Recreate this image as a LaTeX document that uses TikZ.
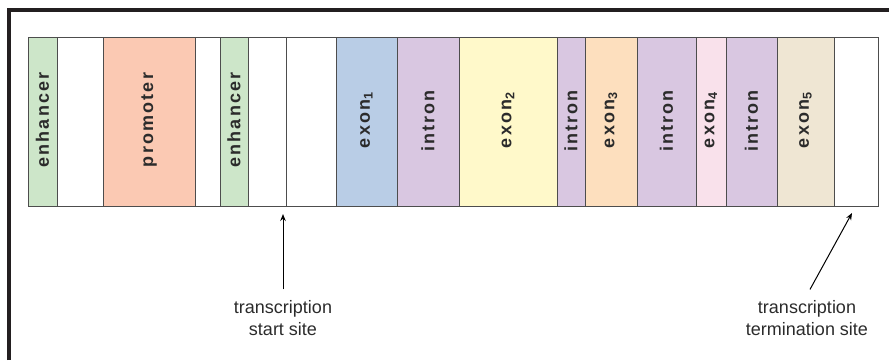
\documentclass[tikz,border=0pt]{standalone}
\usepackage{fontspec}
\setmainfont{Liberation Sans}
\newfontfamily\boxfont[LetterSpace=12]{Liberation Sans}
\usetikzlibrary{arrows.meta,positioning}
\definecolor{framegray}{HTML}{231F20}
\definecolor{segedge}{HTML}{4D4D4D}
\definecolor{txtgray}{HTML}{2B2B2B}
\definecolor{enhgreen}{HTML}{CDE6C9}
\definecolor{promsalmon}{HTML}{FBC9B3}
\definecolor{exonblue}{HTML}{B9CDE6}
\definecolor{intronlilac}{HTML}{D9C7E1}
\definecolor{exonyellow}{HTML}{FFF9CA}
\definecolor{exonorange}{HTML}{FDDFBE}
\definecolor{exonpink}{HTML}{F9E1EB}
\definecolor{exonbeige}{HTML}{EFE6D3}
\tikzset{
  frame/.style     = {line width=4pt, draw=framegray},
  segment/.style   = {draw=segedge, line width=1pt},
  seglabel/.style  = {font=\boxfont\bfseries\fontsize{18}{20}\selectfont,
                      rotate=90, text=txtgray, inner sep=0pt},
  sitelabel/.style = {font=\fontsize{18}{22}\selectfont, align=center,
                      text=txtgray, inner sep=0pt, outer sep=11pt},
  pointer/.style   = {-{Stealth[length=7pt,width=5.5pt]}, line width=1pt},
}

\begin{document}
\begin{tikzpicture}[x=1pt,y=-1pt]
  \useasboundingbox (0,0) rectangle (889,360);
  \draw[frame] (9,360) -- (9,10) -- (889,10);

  % the gene, left to right
  \draw[segment, fill=enhgreen]    (28,37)  rectangle (57,206);
  \draw[segment, fill=white]       (57,37)  rectangle (103,206);
  \draw[segment, fill=promsalmon]  (103,37) rectangle (195,206);
  \draw[segment, fill=white]       (195,37) rectangle (220,206);
  \draw[segment, fill=enhgreen]    (220,37) rectangle (248,206);
  \draw[segment, fill=white]       (248,37) rectangle (286,206);
  \draw[segment, fill=white]       (286,37) rectangle (336,206);
  \draw[segment, fill=exonblue]    (336,37) rectangle (397,206);
  \draw[segment, fill=intronlilac] (397,37) rectangle (459,206);
  \draw[segment, fill=exonyellow]  (459,37) rectangle (557,206);
  \draw[segment, fill=intronlilac] (557,37) rectangle (585,206);
  \draw[segment, fill=exonorange]  (585,37) rectangle (637,206);
  \draw[segment, fill=intronlilac] (637,37) rectangle (696,206);
  \draw[segment, fill=exonpink]    (696,37) rectangle (726,206);
  \draw[segment, fill=intronlilac] (726,37) rectangle (777,206);
  \draw[segment, fill=exonbeige]   (777,37) rectangle (834,206);
  \draw[segment, fill=white]       (834,37) rectangle (878,206);

  \node[seglabel] (enhA)   at (42.5,120)  {enhancer};
  \node[seglabel] (prom)   at (149,120)   {promoter};
  \node[seglabel] (enhB)   at (234,120)   {enhancer};
  \node[seglabel] (exonA)  at (366.5,120) {exon\textsubscript{1}};
  \node[seglabel] (intrA)  at (428,121)   {intron};
  \node[seglabel] (exonB)  at (508,120)   {exon\textsubscript{2}};
  \node[seglabel] (intrB)  at (571,121)   {intron};
  \node[seglabel] (exonC)  at (611,120)   {exon\textsubscript{3}};
  \node[seglabel] (intrC)  at (666.5,121) {intron};
  \node[seglabel] (exonD)  at (711,120)   {exon\textsubscript{4}};
  \node[seglabel] (intrD)  at (751.5,121) {intron};
  \node[seglabel] (exonE)  at (805.5,120) {exon\textsubscript{5}};

  % sites
  \coordinate (tss) at (283,214);
  \coordinate (tes) at (852,213);
  \node[sitelabel] (start) at (283,318) {transcription\\start site};
  \node[sitelabel] (term)  at (807,318) {transcription\\termination site};
  \draw[pointer] (start.north) -- (tss);
  \draw[pointer] ([xshift=3pt]term.north) -- (tes);
\end{tikzpicture}
\end{document}
